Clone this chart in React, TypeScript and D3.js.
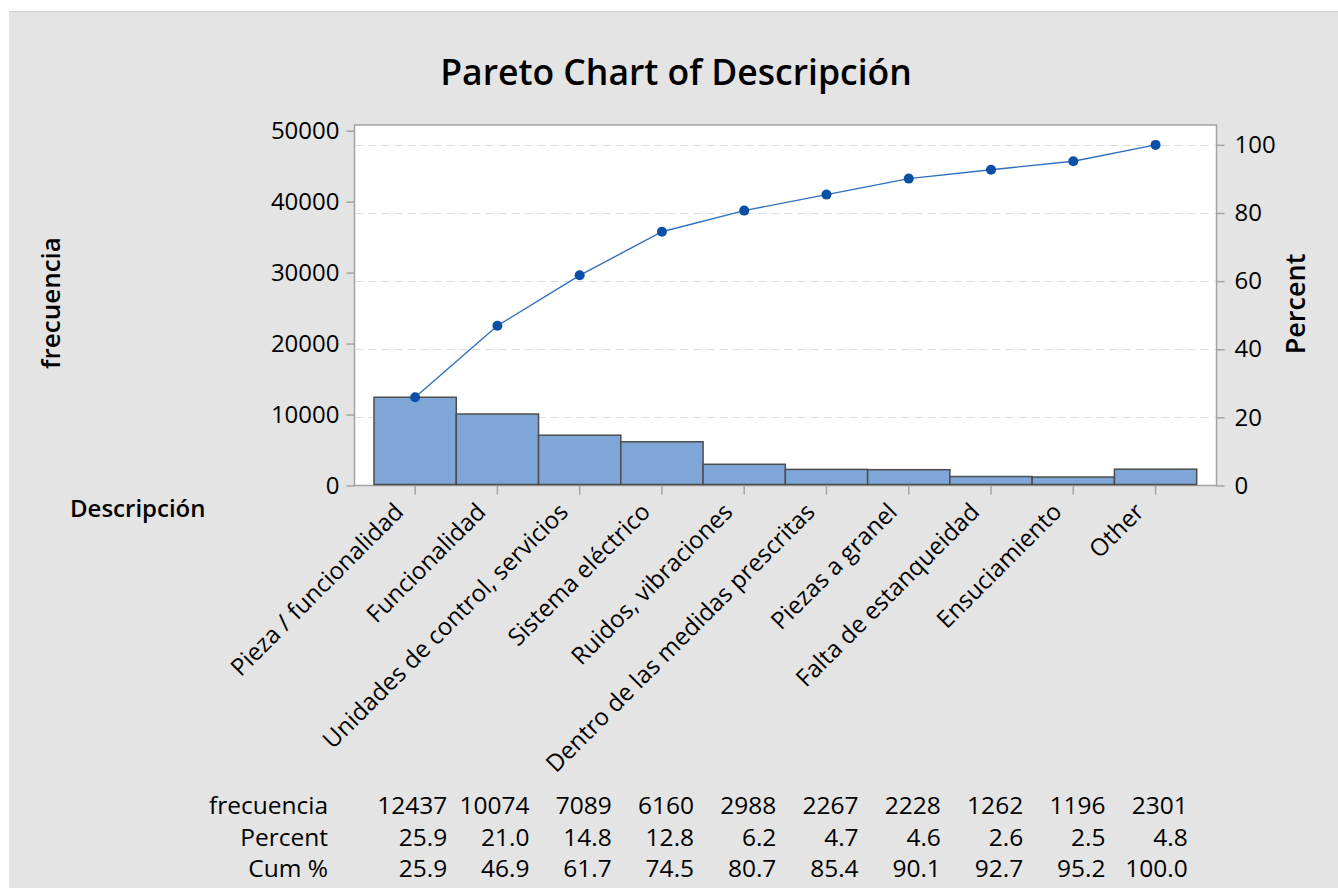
import { useEffect, useRef } from 'react';
import * as d3 from 'd3';

const categories = [
    'Pieza / funcionalidad',
    'Funcionalidad',
    'Unidades de control, servicios',
    'Sistema eléctrico',
    'Ruidos, vibraciones',
    'Dentro de las medidas prescritas',
    'Piezas a granel',
    'Falta de estanqueidad',
    'Ensuciamiento',
    'Other',
];
const counts = [12437, 10074, 7089, 6160, 2988, 2267, 2228, 1262, 1196, 2301];
const percents = ['25.9', '21.0', '14.8', '12.8', '6.2', '4.7', '4.6', '2.6', '2.5', '4.8'];
const cumPercents = ['25.9', '46.9', '61.7', '74.5', '80.7', '85.4', '90.1', '92.7', '95.2', '100.0'];
const countTicks = [0, 10000, 20000, 30000, 40000, 50000];
const percentTicks = [0, 20, 40, 60, 80, 100];

export default function App() {
    const svgRef = useRef<SVGSVGElement>(null);

    useEffect(() => {
        if (!svgRef.current) return;

        const W = 1338, H = 888;
        const font = '"Open Sans", "Noto Sans", sans-serif';
        const plot = { left: 354.5, right: 1216.5, top: 125, bottom: 485.5 };
        const axisGrey = '#a3a3a3';

        const svg = d3.select(svgRef.current);
        svg.selectAll('*').remove();
        svg.attr('width', W).attr('height', H).style('font-family', font);

        // page background
        svg.append('rect').attr('width', W).attr('height', H).attr('fill', '#ffffff');
        svg.append('rect').attr('x', 9).attr('y', 11).attr('width', W - 9).attr('height', H - 11).attr('fill', '#e4e4e4');
        svg.append('line').attr('x1', 9).attr('x2', W).attr('y1', 11.5).attr('y2', 11.5).attr('stroke', '#cfcfcf');

        const x = d3.scaleBand<string>()
            .domain(categories)
            .range([plot.left + 19.5, plot.right - 19.8])
            .paddingInner(0).paddingOuter(0);
        const yCount = d3.scaleLinear().domain([0, 50000]).range([plot.bottom, 130.7]);
        const total = d3.sum(counts);
        const yPct = d3.scaleLinear().domain([0, 100]).range([plot.bottom, yCount(total)]);

        // plot area
        svg.append('rect')
            .attr('x', plot.left).attr('y', plot.top)
            .attr('width', plot.right - plot.left).attr('height', plot.bottom - plot.top)
            .attr('fill', '#ffffff').attr('stroke', axisGrey).attr('stroke-width', 1.5);

        // gridlines on the percent scale
        svg.append('g')
            .selectAll('line')
            .data(percentTicks.filter(t => t > 0))
            .join('line')
            .attr('x1', plot.left + 1).attr('x2', plot.right - 1)
            .attr('y1', d => Math.round(yPct(d)) + 0.5).attr('y2', d => Math.round(yPct(d)) + 0.5)
            .attr('stroke', '#dcdcdc').attr('stroke-width', 1.2).attr('stroke-dasharray', '8,5');

        // bars
        svg.append('g')
            .selectAll('rect')
            .data(counts)
            .join('rect')
            .attr('x', (_, i) => x(categories[i])!)
            .attr('y', d => yCount(d))
            .attr('width', x.bandwidth())
            .attr('height', d => plot.bottom - 1 - yCount(d))
            .attr('fill', '#7ea7d8')
            .attr('stroke', '#4d4d4d').attr('stroke-width', 1.5);

        // cumulative line
        const cx = (i: number) => x(categories[i])! + x.bandwidth() / 2;
        const line = d3.line<string>()
            .x((_, i) => cx(i))
            .y(d => yPct(+d));
        svg.append('path')
            .datum(cumPercents)
            .attr('d', line)
            .attr('fill', 'none').attr('stroke', '#2f6fc0').attr('stroke-width', 1.4);
        svg.append('g')
            .selectAll('circle')
            .data(cumPercents)
            .join('circle')
            .attr('cx', (_, i) => cx(i))
            .attr('cy', d => yPct(+d))
            .attr('r', 5)
            .attr('fill', '#0b50a5');

        const styleAxis = (g: d3.Selection<SVGGElement, unknown, null, undefined>) => {
            g.select('.domain').remove();
            g.selectAll('.tick line').attr('stroke', axisGrey).attr('stroke-width', 1.5);
            g.selectAll('.tick text').attr('fill', '#000').attr('font-size', 24).attr('font-family', font);
        };

        // left axis
        svg.append('g')
            .attr('transform', `translate(${plot.left},0)`)
            .call(d3.axisLeft(yCount).tickValues(countTicks).tickSize(8).tickPadding(7).tickFormat(d3.format('d')))
            .call(styleAxis);

        // right axis
        svg.append('g')
            .attr('transform', `translate(${plot.right},0)`)
            .call(d3.axisRight(yPct).tickValues(percentTicks).tickSize(8).tickPadding(10).tickFormat(d3.format('d')))
            .call(styleAxis);

        // category axis
        const xAxis = svg.append('g')
            .attr('transform', `translate(0,${plot.bottom})`)
            .call(d3.axisBottom(x).tickSize(9).tickPadding(0))
            .call(styleAxis);
        xAxis.selectAll<SVGTextElement, string>('.tick text')
            .attr('text-anchor', 'end')
            .attr('dy', '0.5em')
            .attr('transform', 'translate(-25,13) rotate(-45)');

        // titles
        svg.append('text')
            .attr('x', 676).attr('y', 85)
            .attr('text-anchor', 'middle')
            .attr('font-size', 35.5).attr('font-weight', 600).attr('fill', '#000')
            .text('Pareto Chart of Descripción');
        svg.append('text')
            .attr('transform', 'translate(60,303) rotate(-90)')
            .attr('text-anchor', 'middle')
            .attr('font-size', 26).attr('font-weight', 600).attr('fill', '#000')
            .text('frecuencia');
        svg.append('text')
            .attr('transform', 'translate(1305,304) rotate(-90)')
            .attr('text-anchor', 'middle')
            .attr('font-size', 27).attr('font-weight', 600).attr('fill', '#000')
            .text('Percent');
        svg.append('text')
            .attr('x', 70).attr('y', 517)
            .attr('font-size', 24).attr('font-weight', 600).attr('fill', '#000')
            .text('Descripción');

        // summary table
        const rows: [string, (string | number)[]][] = [
            ['frecuencia', counts],
            ['Percent', percents],
            ['Cum %', cumPercents],
        ];
        const table = svg.append('g').attr('font-size', 24.5).attr('fill', '#000');
        rows.forEach(([label, vals], r) => {
            const y = 814 + r * 31.5;
            table.append('text')
                .attr('x', 328).attr('y', y).attr('text-anchor', 'end')
                .text(label);
            table.selectAll(null)
                .data(vals)
                .join('text')
                .attr('x', (_, i) => x(categories[i])! + x.bandwidth() - 9)
                .attr('y', y)
                .attr('text-anchor', 'end')
                .text(d => String(d));
        });
    }, []);

    return (
        <div style={{ position: 'absolute', left: 0, top: 0 }}>
            <svg ref={svgRef} style={{ display: 'block' }} />
        </div>
    );
}
